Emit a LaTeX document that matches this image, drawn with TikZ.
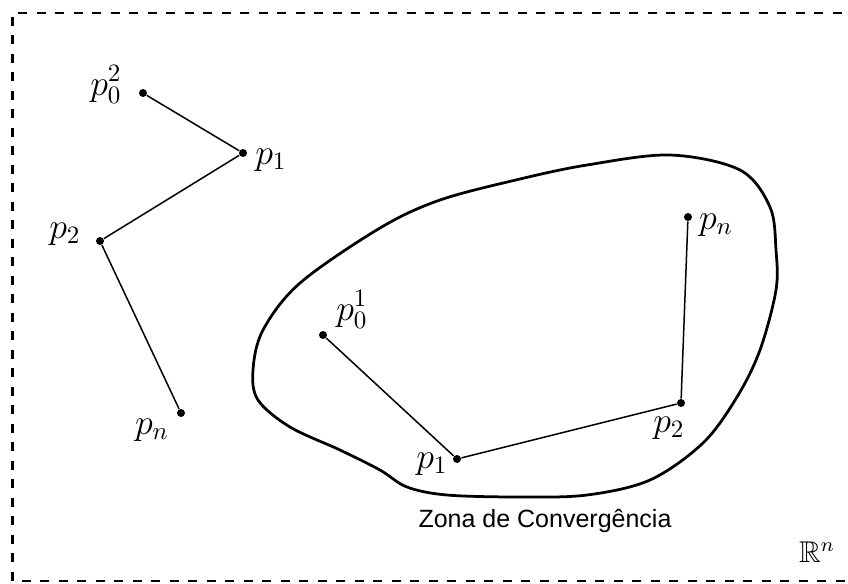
\documentclass[tikz,border=0pt]{standalone}
\usepackage{amsmath,amssymb}
\usepackage{fontspec}
\setsansfont{Liberation Sans}
\usepackage{tikz}
\usetikzlibrary{positioning}

\begin{document}
\begin{tikzpicture}[x=0.4pt,y=-0.4pt,
  dot/.style={circle,fill,inner sep=0pt,minimum size=3.2pt},
  lbl/.style={anchor=base,inner sep=0pt,font=\Large},
  seg/.style={line width=0.6pt},
  zone/.style={line width=1.1pt},
  frame/.style={line width=1.1pt,dash pattern=on 3.6pt off 3.8pt}]
\useasboundingbox (0,0) rectangle (848,583);
\clip (0,0) rectangle (848,583);
\draw[frame] (860,13) -- (12.5,13) -- (12.5,581) -- (860,581);
% zona de convergencia
\draw[zone] plot[smooth cycle,tension=0.55] coordinates {
  (670,155) (740,170) (770,207) (776,250) (776,290) (760,350) (737,397)
  (703,443) (650,480) (587,495) (520,497) (447,495) (407,487) (380,470)
  (340,450) (290,427) (258,400) (253,370) (263,330) (300,283) (380,228)
  (440,200) (520,179) (587,165)};
\node[anchor=base,inner sep=0pt,font=\sffamily] (zl) at (545,527) {Zona de Convergência};
% sequencia que diverge
\node[dot] (a0) at (143,93) {};
\node[dot] (a1) at (243,153) {};
\node[dot] (a2) at (100,241) {};
\node[dot] (an) at (181,413) {};
\node[lbl] (la0) at (106,95) {$p_0^2$};
\node[lbl] (la1) at (271,164) {$p_1$};
\node[lbl] (la2) at (65,238) {$p_2$};
\node[lbl] (lan) at (152,434) {$p_n$};
\draw[seg] (a0) -- (a1) -- (a2) -- (an);
% sequencia que converge
\node[dot] (b0) at (323,335) {};
\node[dot] (b1) at (457,459) {};
\node[dot] (b2) at (681,403) {};
\node[dot] (bn) at (688,217) {};
\node[lbl] (lb0) at (352,320) {$p_0^1$};
\node[lbl] (lb1) at (432,468) {$p_1$};
\node[lbl] (lb2) at (669,432) {$p_2$};
\node[lbl] (lbn) at (716,229) {$p_n$};
\draw[seg] (b0) -- (b1) -- (b2) -- (bn);
\node[anchor=base,inner sep=0pt,font=\large] (rn) at (817,562) {$\mathbb{R}^n$};
\end{tikzpicture}
\end{document}
